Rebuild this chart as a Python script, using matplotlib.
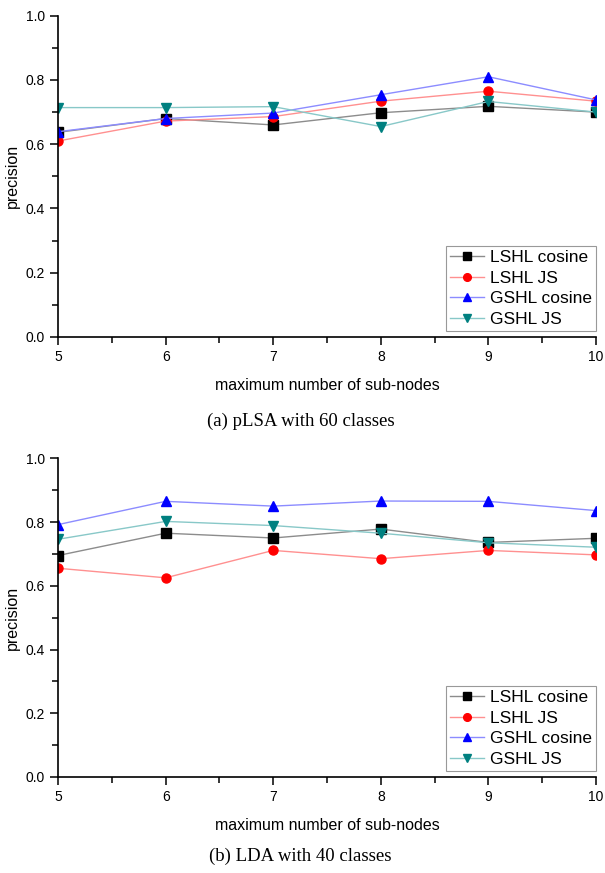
import numpy as np
import matplotlib.pyplot as plt
from matplotlib.ticker import MultipleLocator

# ==================== DATA ====================
x_nodes = [5, 6, 7, 8, 9, 10]
series_names = ['LSHL cosine', 'LSHL JS', 'GSHL cosine', 'GSHL JS']

# (a) pLSA with 60 classes
plsa_lshl_cos = [0.637, 0.680, 0.660, 0.698, 0.718, 0.700]
plsa_lshl_js = [0.610, 0.672, 0.686, 0.734, 0.765, 0.734]
plsa_gshl_cos = [0.639, 0.680, 0.697, 0.754, 0.810, 0.738]
plsa_gshl_js = [0.714, 0.714, 0.717, 0.655, 0.733, 0.700]

# (b) LDA with 40 classes
lda_lshl_cos = [0.695, 0.765, 0.750, 0.778, 0.736, 0.749]
lda_lshl_js = [0.655, 0.625, 0.711, 0.685, 0.711, 0.697]
lda_gshl_cos = [0.792, 0.865, 0.850, 0.866, 0.865, 0.836]
lda_gshl_js = [0.746, 0.802, 0.789, 0.765, 0.735, 0.721]

captions = ['(a) pLSA with 60 classes', '(b) LDA with 40 classes']

# ==================== STYLE ====================
marker_styles = ['s', 'o', '^', 'v']
marker_colors = ['#000000', '#ff0000', '#0000ff', '#008080']
line_colors = ['#8c8c8c', '#ff9090', '#8c8cff', '#88c8c8']

plt.rcParams['font.family'] = ['Liberation Sans', 'DejaVu Sans']


def draw_panel(ax, data):
    for vals, name, mk, mc, lc in zip(data, series_names, marker_styles,
                                      marker_colors, line_colors):
        ax.plot(x_nodes, vals, color=lc, linewidth=1.0, marker=mk,
                markersize=6.5, markerfacecolor=mc, markeredgecolor=mc,
                label=name)
    ax.set_xlim(5, 10)
    ax.set_ylim(0.0, 1.0)
    ax.xaxis.set_major_locator(MultipleLocator(1))
    ax.xaxis.set_minor_locator(MultipleLocator(0.5))
    ax.yaxis.set_major_locator(MultipleLocator(0.2))
    ax.yaxis.set_minor_locator(MultipleLocator(0.1))
    ax.yaxis.set_major_formatter(plt.FormatStrFormatter('%.1f'))
    for side in ['top', 'right']:
        ax.spines[side].set_visible(False)
    for side in ['left', 'bottom']:
        ax.spines[side].set_linewidth(1.2)
    ax.tick_params(which='major', direction='out', length=6, width=1.1,
                   labelsize=10)
    ax.tick_params(which='minor', direction='out', length=4, width=1.1)
    ax.set_xlabel('maximum number of sub-nodes', fontsize=11.5, labelpad=10)
    ax.set_ylabel('precision', fontsize=11.5, labelpad=4)
    leg = ax.legend(loc='lower right', bbox_to_anchor=(1.0, 0.02),
                    fontsize=12.5, frameon=True, fancybox=False,
                    handlelength=2.0, handletextpad=0.35, borderpad=0.2,
                    labelspacing=0.32, borderaxespad=0.0, markerscale=0.85)
    leg.get_frame().set_edgecolor('#808080')
    leg.get_frame().set_linewidth(0.8)


fig = plt.figure(figsize=(6.05, 8.73), dpi=100)
ax1 = fig.add_axes([0.096, 0.614, 0.889, 0.368])
ax2 = fig.add_axes([0.096, 0.110, 0.889, 0.365])

draw_panel(ax1, [plsa_lshl_cos, plsa_lshl_js, plsa_gshl_cos, plsa_gshl_js])
draw_panel(ax2, [lda_lshl_cos, lda_lshl_js, lda_gshl_cos, lda_gshl_js])

fig.text(0.497, 1 - 421 / 873, captions[0], ha='center', va='center',
         fontsize=13.5, family=['Liberation Serif', 'DejaVu Serif'])
fig.text(0.497, 1 - 856 / 873, captions[1], ha='center', va='center',
         fontsize=13.5, family=['Liberation Serif', 'DejaVu Serif'])

fig.savefig('out.png', dpi=100)
